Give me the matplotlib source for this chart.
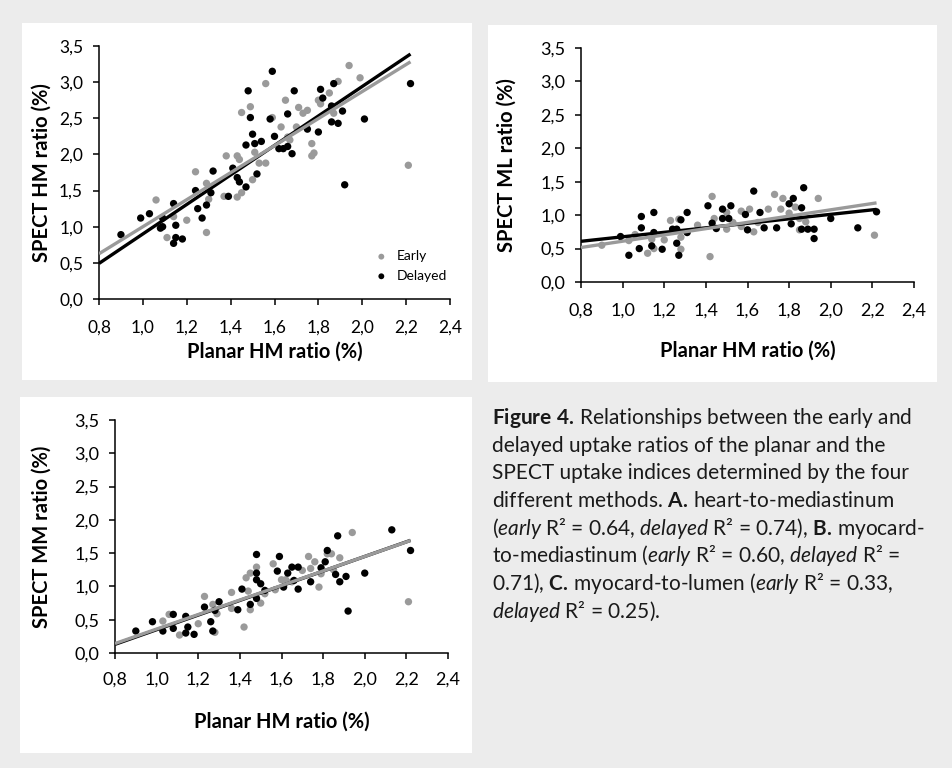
import matplotlib
matplotlib.use("Agg")
import matplotlib.pyplot as plt
import numpy as np

plt.rcParams['font.family'] = ['Lato', 'DejaVu Sans']
plt.rcParams['mathtext.fontset'] = 'custom'
plt.rcParams['mathtext.rm'] = 'Lato'
plt.rcParams['mathtext.it'] = 'Lato:italic'
plt.rcParams['mathtext.bf'] = 'Lato:bold'

# panel A: SPECT HM ratio
a_early_x = [1.06, 1.11, 1.14, 1.20, 1.24, 1.29, 1.29, 1.30, 1.37, 1.38, 1.43, 1.43, 1.44, 1.45,
             1.45, 1.49, 1.50, 1.51, 1.53, 1.56, 1.56, 1.59, 1.63, 1.65, 1.66, 1.67, 1.70, 1.71,
             1.73, 1.75, 1.77, 1.77, 1.78, 1.80, 1.81, 1.85, 1.87, 1.89, 1.94, 1.99, 2.21]
a_early_y = [1.37, 0.85, 1.14, 1.09, 1.76, 1.60, 0.92, 1.38, 1.42, 1.98, 1.41, 1.98, 1.93, 1.47,
             2.58, 2.66, 1.65, 2.03, 1.88, 1.88, 2.98, 2.51, 2.38, 2.75, 2.24, 2.20, 2.38, 2.65,
             2.57, 2.61, 2.15, 1.98, 2.02, 2.75, 2.70, 2.85, 2.57, 3.01, 3.23, 3.06, 1.85]
a_del_x = [0.90, 0.99, 1.03, 1.09, 1.08, 1.09, 1.14, 1.15, 1.15, 1.14, 1.18, 1.24, 1.25, 1.27,
           1.29, 1.31, 1.32, 1.39, 1.41, 1.43, 1.44, 1.47, 1.47, 1.48, 1.49, 1.50, 1.51, 1.52,
           1.54, 1.58, 1.59, 1.60, 1.62, 1.64, 1.66, 1.66, 1.68, 1.69, 1.75, 1.80, 1.81, 1.82,
           1.86, 1.86, 1.87, 1.89, 1.91, 1.92, 2.01, 2.22]
a_del_y = [0.89, 1.12, 1.18, 1.12, 0.98, 1.00, 1.32, 1.02, 0.85, 0.77, 0.83, 1.50, 1.25, 1.12,
           1.30, 1.47, 1.77, 1.42, 1.81, 1.68, 1.62, 1.55, 2.13, 2.88, 2.51, 2.28, 2.15, 1.73,
           2.18, 2.49, 3.15, 2.25, 2.08, 2.08, 2.11, 2.56, 2.01, 2.88, 2.35, 2.31, 2.90, 2.78,
           2.67, 2.45, 2.98, 2.43, 2.60, 1.58, 2.49, 2.98]
a_fit_early = (1.87, -0.87)
a_fit_del = (2.04, -1.14)

# panel B: SPECT ML ratio
b_early_x = [0.90, 1.03, 1.06, 1.12, 1.14, 1.15, 1.20, 1.23, 1.27, 1.28, 1.28, 1.36, 1.42, 1.43,
             1.44, 1.50, 1.50, 1.53, 1.57, 1.57, 1.61, 1.63, 1.65, 1.70, 1.73, 1.76, 1.77, 1.80,
             1.83, 1.85, 1.85, 1.88, 1.94, 2.21]
b_early_y = [0.55, 0.62, 0.71, 0.43, 0.64, 0.50, 0.63, 0.92, 0.94, 0.67, 0.49, 0.85, 0.38, 1.28,
             0.95, 1.04, 0.79, 0.89, 1.06, 0.83, 1.09, 0.75, 0.89, 1.09, 1.31, 1.09, 1.25, 1.03,
             1.12, 0.95, 0.78, 0.90, 1.25, 0.70]
b_del_x = [0.99, 1.03, 1.09, 1.09, 1.08, 1.14, 1.15, 1.15, 1.19, 1.24, 1.26, 1.26, 1.27, 1.28,
           1.31, 1.31, 1.41, 1.43, 1.45, 1.48, 1.48, 1.51, 1.52, 1.59, 1.60, 1.63, 1.66, 1.68,
           1.74, 1.80, 1.81, 1.82, 1.86, 1.86, 1.87, 1.89, 1.92, 1.92, 2.00, 2.13, 2.22]
b_del_y = [0.68, 0.40, 0.98, 0.81, 0.50, 0.54, 1.04, 0.74, 0.49, 0.79, 0.79, 0.58, 0.40, 0.93,
           1.04, 0.74, 1.14, 0.88, 0.80, 1.09, 0.95, 0.95, 1.14, 1.01, 0.78, 1.36, 1.04, 0.81,
           0.81, 1.17, 0.87, 1.25, 1.11, 0.79, 1.41, 0.79, 0.79, 0.65, 0.95, 0.81, 1.05]
b_fit_early = (0.47, 0.14)
b_fit_del = (0.336, 0.34)

# panel C: SPECT MM ratio
c_early_x = [1.03, 1.06, 1.11, 1.20, 1.23, 1.27, 1.28, 1.29, 1.36, 1.36, 1.42, 1.43, 1.45, 1.44,
             1.45, 1.48, 1.50, 1.52, 1.56, 1.57, 1.60, 1.62, 1.65, 1.70, 1.73, 1.74, 1.76, 1.78,
             1.79, 1.82, 1.84, 1.85, 1.88, 1.94, 2.21]
c_early_y = [0.48, 0.58, 0.27, 0.44, 0.85, 0.73, 0.31, 0.59, 0.91, 0.67, 0.39, 1.13, 1.20, 0.93,
             0.65, 1.29, 0.75, 0.89, 1.34, 0.95, 1.10, 1.10, 1.07, 1.24, 1.45, 1.27, 1.37, 0.99,
             1.19, 1.49, 1.49, 1.25, 1.43, 1.81, 0.77]
c_del_x = [0.90, 0.98, 1.03, 1.08, 1.08, 1.14, 1.14, 1.15, 1.18, 1.23, 1.26, 1.27, 1.28, 1.30,
           1.39, 1.41, 1.45, 1.48, 1.48, 1.48, 1.48, 1.50, 1.52, 1.58, 1.59, 1.61, 1.63, 1.65,
           1.66, 1.68, 1.68, 1.74, 1.79, 1.81, 1.82, 1.86, 1.87, 1.88, 1.91, 1.92, 2.00, 2.13, 2.22]
c_del_y = [0.33, 0.47, 0.33, 0.58, 0.37, 0.55, 0.30, 0.39, 0.28, 0.69, 0.47, 0.33, 0.64, 0.77,
           0.65, 0.96, 0.73, 1.48, 1.10, 1.20, 0.82, 1.04, 0.94, 1.23, 1.45, 0.99, 1.20, 1.29,
           1.09, 0.96, 1.29, 1.07, 1.28, 1.37, 1.54, 1.18, 1.76, 1.07, 1.15, 0.63, 1.20, 1.85, 1.54]
c_fit_early = (1.09, -0.73)
c_fit_del = (1.10, -0.75)

x_ticks = [0.8, 1.0, 1.2, 1.4, 1.6, 1.8, 2.0, 2.2, 2.4]
y_ticks = [0.0, 0.5, 1.0, 1.5, 2.0, 2.5, 3.0, 3.5]
fit_range = (0.8, 2.22)

GRAY = '#9a9a9a'
W, H = 953, 768

fig = plt.figure(figsize=(9.53, 7.68), dpi=100)
fig.patch.set_facecolor('#ececec')

# white panel backgrounds (pixel boxes: left, top, right, bottom)
for l, t, r, b in [(22, 23, 472, 380), (488, 25, 937, 382), (20, 397, 472, 753)]:
    fig.patches.append(plt.Rectangle((l / W, 1 - b / H), (r - l) / W, (b - t) / H,
                                     transform=fig.transFigure, facecolor='white',
                                     edgecolor='none', zorder=-5))


def panel(box, ex, ey, dx, dy, fe, fd, ylabel, xlab_off, ylab_off, xpad, tsize):
    l, t, r, b = box
    ax = fig.add_axes([l / W, 1 - b / H, (r - l) / W, (b - t) / H])
    ax.set_zorder(2)
    ax.patch.set_visible(False)
    ax.scatter(ex, ey, s=28, color=GRAY, edgecolors='none', zorder=2, label='Early')
    ax.scatter(dx, dy, s=28, color='black', edgecolors='none', zorder=3, label='Delayed')
    xx = np.array(fit_range)
    ax.plot(xx, fd[0] * xx + fd[1], color='black', lw=2.4, zorder=4, solid_capstyle='butt')
    ax.plot(xx, fe[0] * xx + fe[1], color=GRAY, lw=2.4, zorder=5, solid_capstyle='butt')
    ax.set_xlim(0.8, 2.4)
    ax.set_ylim(0, 3.5)
    ax.set_xticks(x_ticks)
    ax.set_yticks(y_ticks)
    ax.set_xticklabels([f'{v:.1f}'.replace('.', ',') for v in x_ticks])
    ax.set_yticklabels([f'{v:.1f}'.replace('.', ',') for v in y_ticks])
    for s in ['top', 'right']:
        ax.spines[s].set_visible(False)
    for s in ['left', 'bottom']:
        ax.spines[s].set_linewidth(1.1)
    ax.tick_params(direction='out', length=4.5, width=1.1, labelsize=tsize, pad=7,
                   colors='black')
    ax.tick_params(axis='x', pad=xpad)
    ax.set_xlabel('Planar HM ratio (%)', fontsize=14.5, fontweight='bold', va='center')
    ax.set_ylabel(ylabel, fontsize=14.5, fontweight='bold', va='center')
    ax.xaxis.set_label_coords(0.5, -xlab_off / (b - t))
    ax.yaxis.set_label_coords(-ylab_off / (r - l), 0.5)
    return ax


ax_a = panel((99, 46, 450, 299), a_early_x, a_early_y, a_del_x, a_del_y,
             a_fit_early, a_fit_del, 'SPECT HM ratio (%)', 53, 57, 10, 12.5)
ax_a.legend(loc='center left', bbox_to_anchor=(0.745, 0.13), frameon=False, fontsize=10,
            handletextpad=0.1, labelspacing=0.55, borderpad=0, markerscale=0.8)

panel((581, 48, 914, 282), b_early_x, b_early_y, b_del_x, b_del_y,
      b_fit_early, b_fit_del, 'SPECT ML ratio (%)', 69, 74, 10, 13)

panel((115, 420, 448, 653), c_early_x, c_early_y, c_del_x, c_del_y,
      c_fit_early, c_fit_del, 'SPECT MM ratio (%)', 69, 73, 8.6, 13)

caption = [
    r'$\mathbf{Figure\ 4.}\,$Relationships between the early and',
    'delayed uptake ratios of the planar and the',
    'SPECT uptake indices determined by the four',
    r'different methods. $\mathbf{A.}\,$heart-to-mediastinum',
    r'($\mathit{early}\ $R² = 0.64, $\mathit{delayed}\ $R² = 0.74), $\mathbf{B.}\,$myocard-',
    r'to-mediastinum ($\mathit{early}\ $R² = 0.60, $\mathit{delayed}\ $R² =',
    r'0.71), $\mathbf{C.}\,$myocard-to-lumen ($\mathit{early}\ $R² = 0.33,',
    r'$\mathit{delayed}\ $R² = 0.25).',
]
for i, line in enumerate(caption):
    fig.text(492 / W, 1 - (418 + i * 27.6) / H, line, fontsize=15, color='#1a1a1a',
             ha='left', va='center')

fig.savefig('out.png', dpi=100, facecolor=fig.get_facecolor())
